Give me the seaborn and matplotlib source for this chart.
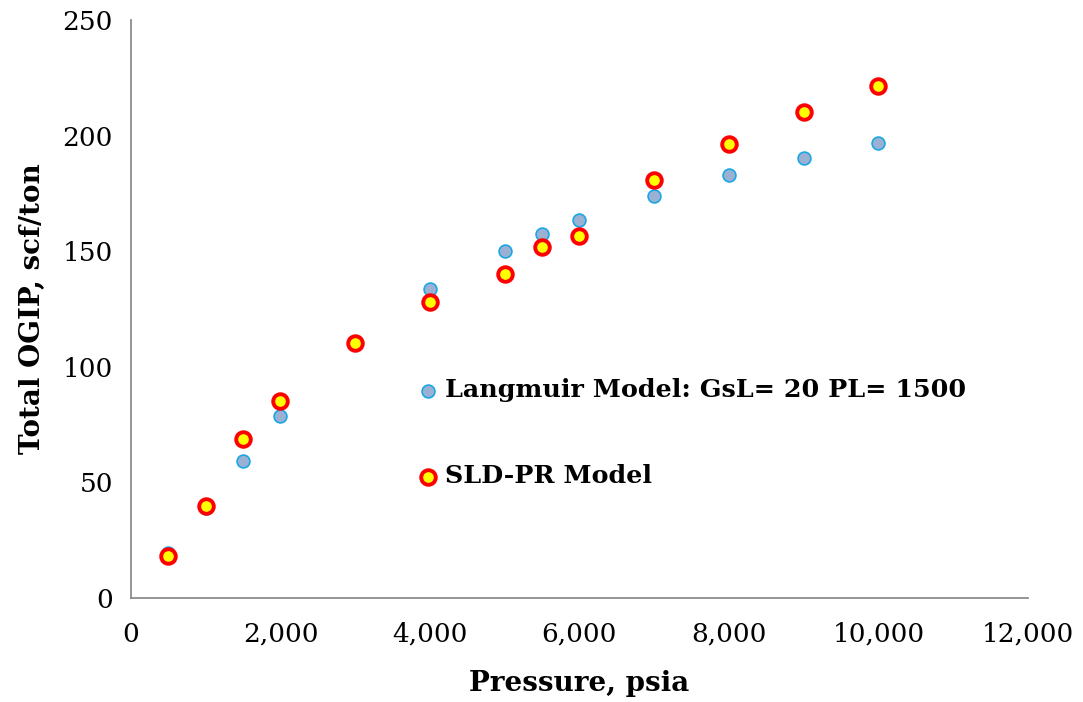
import matplotlib
matplotlib.use("Agg")
import matplotlib.pyplot as plt
import matplotlib.ticker as mticker
import seaborn as sns
import pandas as pd

# Pressure (psia) and total OGIP (scf/ton) for each model
langmuir_pressure = [500, 1000, 1500, 2000, 3000, 4000, 5000, 5500, 6000, 7000, 8000, 9000, 10000]
langmuir_ogip = [19.5, 39.0, 59.3, 78.7, 110.0, 133.6, 150.1, 157.4, 163.5, 173.9, 183.0, 190.3, 196.8]

sld_pressure = [500, 1000, 1500, 2000, 3000, 4000, 5000, 5500, 6000, 7000, 8000, 9000, 10000]
sld_ogip = [18.2, 39.8, 68.8, 85.2, 110.3, 128.0, 140.1, 151.8, 156.6, 180.8, 196.4, 210.2, 221.5]

langmuir_label = "Langmuir Model: GsL= 20 PL= 1500"
sld_label = "SLD-PR Model"

df_lang = pd.DataFrame({"p": langmuir_pressure, "g": langmuir_ogip})
df_sld = pd.DataFrame({"p": sld_pressure, "g": sld_ogip})

sns.set_theme(style="white")
plt.rcParams["font.family"] = ["DejaVu Serif"]
plt.rcParams["text.color"] = "black"
plt.rcParams["axes.labelcolor"] = "black"

fig = plt.figure(figsize=(10.83, 7.02), dpi=100)
ax = fig.add_axes([0.121, 0.148, 0.828, 0.8235])

sns.scatterplot(data=df_lang, x="p", y="g", ax=ax, s=85, color="#9BB1D4",
                edgecolor="#1AA7E3", linewidth=1.2, label=langmuir_label, zorder=3)
sns.scatterplot(data=df_sld, x="p", y="g", ax=ax, s=110, color="#FFFF00",
                edgecolor="#FF0000", linewidth=2.8, label=sld_label, zorder=4)

ax.set_xlim(0, 12000)
ax.set_ylim(0, 250)
ax.xaxis.set_major_locator(mticker.MultipleLocator(2000))
ax.yaxis.set_major_locator(mticker.MultipleLocator(50))
ax.xaxis.set_major_formatter(mticker.FuncFormatter(lambda v, _: f"{int(v):,}"))

for side in ("top", "right"):
    ax.spines[side].set_visible(False)
for side in ("left", "bottom"):
    ax.spines[side].set_color("#8C8C8C")
    ax.spines[side].set_linewidth(1.3)

ax.tick_params(axis="both", which="major", direction="out", length=7, width=1.3,
               color="#8C8C8C", labelsize=19, labelcolor="black", pad=6)
ax.tick_params(axis="x", pad=10)

ax.set_xlabel("Pressure, psia", fontsize=20, fontweight="bold", labelpad=17)
ax.set_ylabel("Total OGIP, scf/ton", fontsize=20, fontweight="bold", labelpad=12)

leg = ax.legend(loc="upper left", bbox_to_anchor=(0.308, 0.3975), frameon=False,
                prop={"weight": "bold", "size": 18.3}, labelspacing=2.44,
                handlelength=0.8, handletextpad=0.3, borderaxespad=0,
                markerscale=1.0)
for t in leg.get_texts():
    t.set_color("black")

fig.savefig("out.png", dpi=100)
